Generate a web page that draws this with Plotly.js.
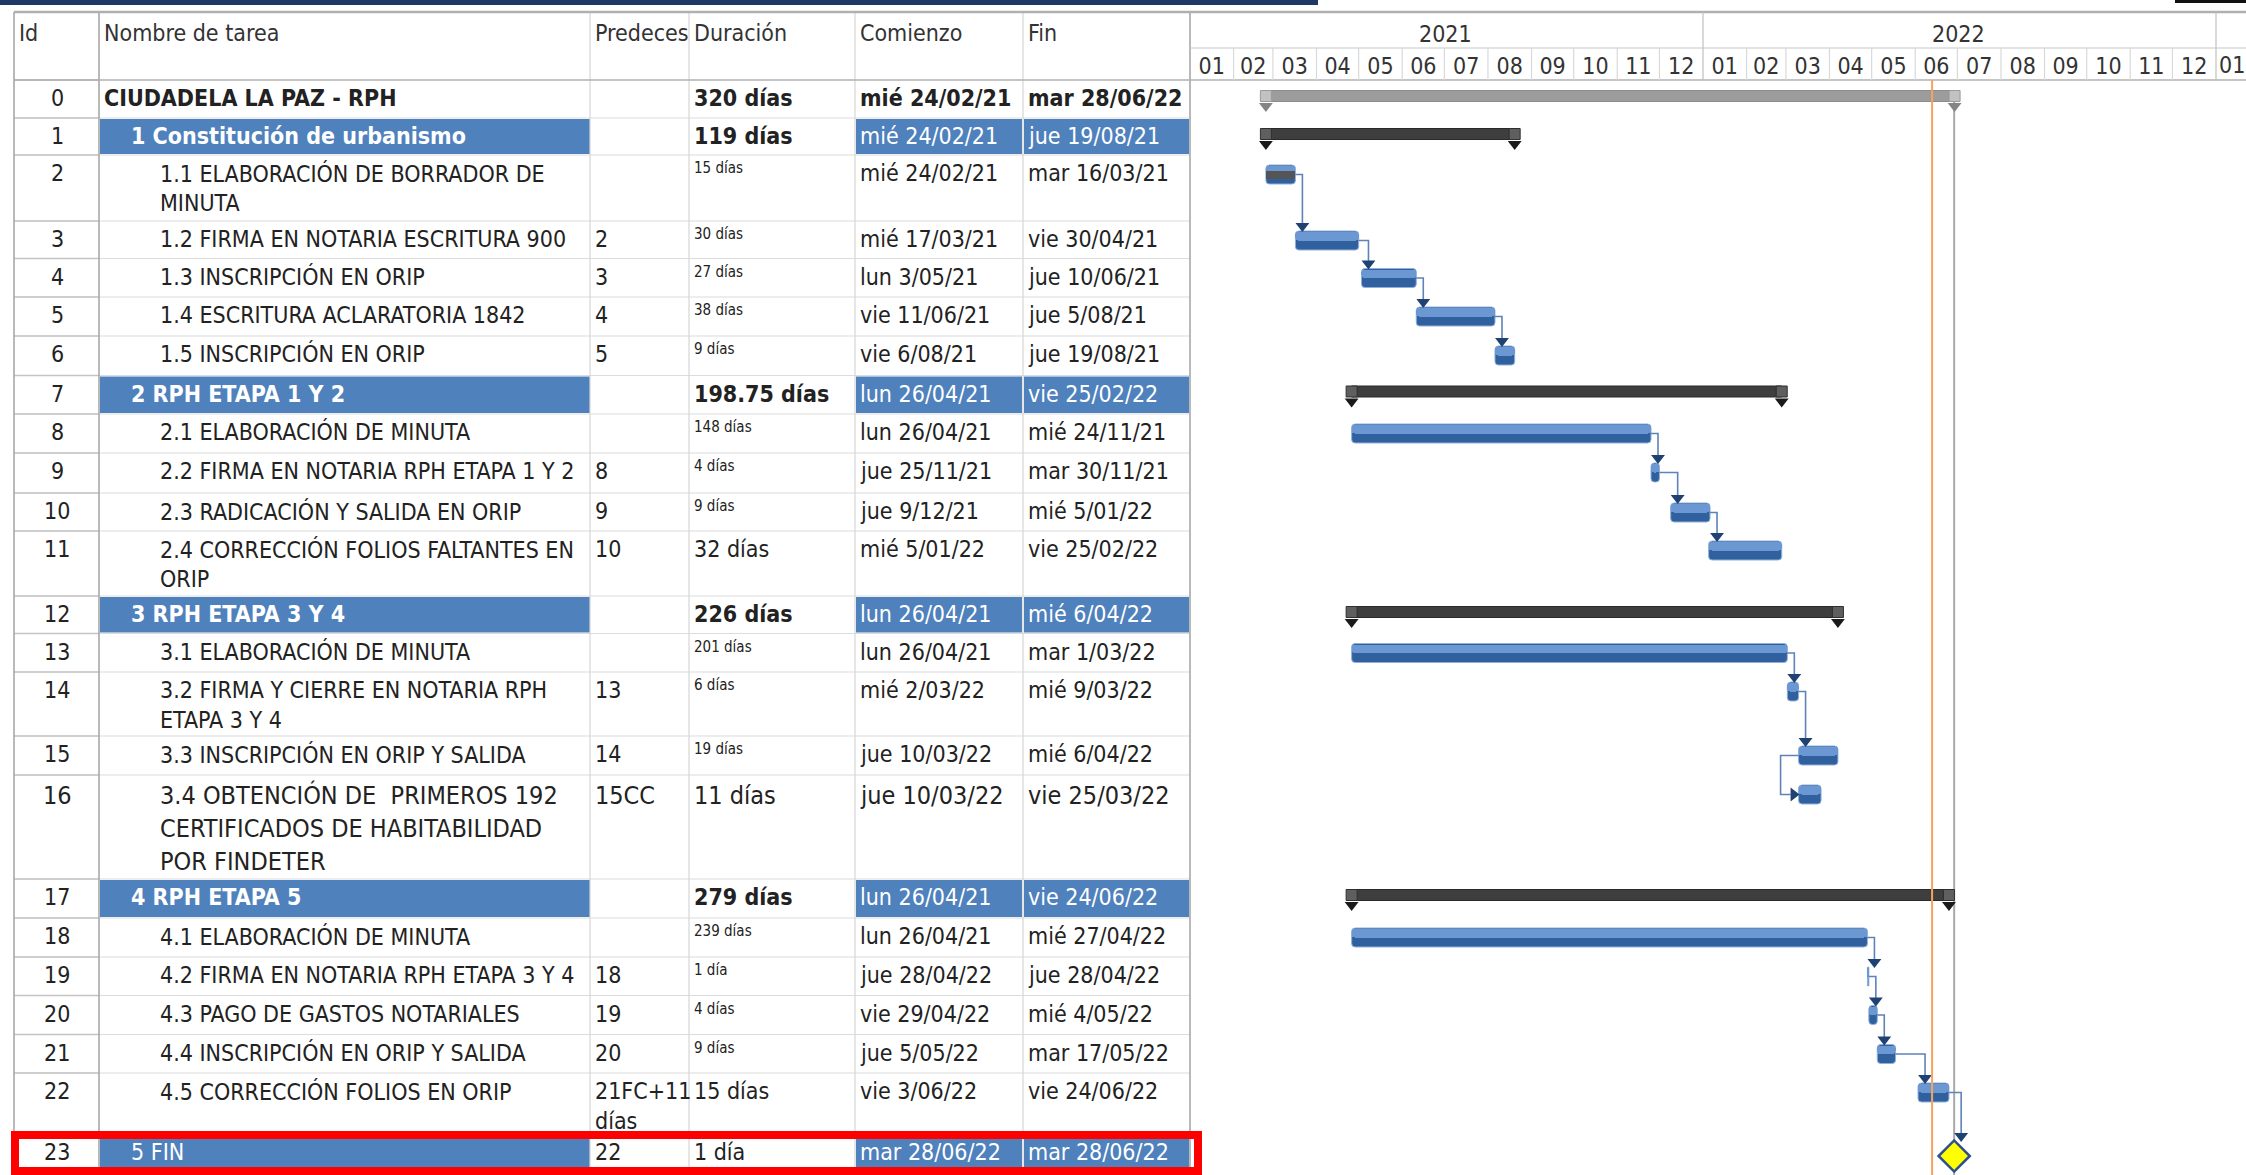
<!DOCTYPE html>
<html>
<head>
<meta charset="utf-8">
<script src="https://cdn.plot.ly/plotly-3.0.1.min.js"></script>
<style>
html,body{margin:0;padding:0;background:#ffffff;overflow:hidden;}
#chart{width:2246px;height:1175px;}
</style>
</head>
<body>
<div id="chart"></div>
<script>
// ================= DATA =================
const taskIds = [0,1,2,3,4,5,6,7,8,9,10,11,12,13,14,15,16,17,18,19,20,21,22,23];
const taskNames = [
  "CIUDADELA LA PAZ - RPH",
  "1 Constitución de urbanismo",
  "1.1 ELABORACIÓN DE BORRADOR DE\nMINUTA",
  "1.2 FIRMA EN NOTARIA ESCRITURA 900",
  "1.3 INSCRIPCIÓN EN ORIP",
  "1.4 ESCRITURA ACLARATORIA 1842",
  "1.5 INSCRIPCIÓN EN ORIP",
  "2 RPH ETAPA 1 Y 2",
  "2.1 ELABORACIÓN DE MINUTA",
  "2.2 FIRMA EN NOTARIA RPH ETAPA 1 Y 2",
  "2.3 RADICACIÓN Y SALIDA EN ORIP",
  "2.4 CORRECCIÓN FOLIOS FALTANTES EN\nORIP",
  "3 RPH ETAPA 3 Y 4",
  "3.1 ELABORACIÓN DE MINUTA",
  "3.2 FIRMA Y CIERRE EN NOTARIA RPH\nETAPA 3 Y 4",
  "3.3 INSCRIPCIÓN EN ORIP Y SALIDA",
  "3.4 OBTENCIÓN DE\u00a0 PRIMEROS 192\nCERTIFICADOS DE HABITABILIDAD\nPOR FINDETER",
  "4 RPH ETAPA 5",
  "4.1 ELABORACIÓN DE MINUTA",
  "4.2 FIRMA EN NOTARIA RPH ETAPA 3 Y 4",
  "4.3 PAGO DE GASTOS NOTARIALES",
  "4.4 INSCRIPCIÓN EN ORIP Y SALIDA",
  "4.5 CORRECCIÓN FOLIOS EN ORIP",
  "5 FIN"
];
const predecessors = ["","","","2","3","4","5","","","8","9","10","","","13","14","15CC","","","18","19","20","21FC+11\ndías","22"];
const durations = ["320 días","119 días","15 días","30 días","27 días","38 días","9 días","198.75 días","148 días","4 días","9 días","32 días","226 días","201 días","6 días","19 días","11 días","279 días","239 días","1 día","4 días","9 días","15 días","1 día"];
const startDates = ["2021-02-24","2021-02-24","2021-02-24","2021-03-17","2021-05-03","2021-06-11","2021-08-06","2021-04-26","2021-04-26","2021-11-25","2021-12-09","2022-01-05","2021-04-26","2021-04-26","2022-03-02","2022-03-10","2022-03-10","2021-04-26","2021-04-26","2022-04-28","2022-04-29","2022-05-05","2022-06-03","2022-06-28"];
const finishDates = ["2022-06-28","2021-08-19","2021-03-16","2021-04-30","2021-06-10","2021-08-05","2021-08-19","2022-02-25","2021-11-24","2021-11-30","2022-01-05","2022-02-25","2022-04-06","2022-03-01","2022-03-09","2022-04-06","2022-03-25","2022-06-24","2022-04-27","2022-04-28","2022-05-04","2022-05-17","2022-06-24","2022-06-28"];
const taskKinds = ["project","summary","task","task","task","task","task","summary","task","task","task","task","summary","task","task","task","task","summary","task","task","task","task","task","milestone"];
const percentComplete = [0,0,100,0,0,0,0,0,0,0,0,0,0,0,0,0,0,0,0,0,0,0,0,0];
const currentDate = "2022-06-13";
const headerLabels = ["Id","Nombre de tarea","Predeces","Duración","Comienzo","Fin"];
const weekdayAbbr = ["dom","lun","mar","mié","jue","vie","sáb"];

// ================= LAYOUT / STYLE =================
const W = 2246, H = 1175;
const GX0 = 1190;                      // left edge of the gantt area
const TOP = 12, TIER = 48, HB = 80;   // header lines
const COLS = [14, 99, 590, 689, 855, 1023, 1190];
const ROW_TOPS = [80,118,155,221,258.5,297,336,375.5,414,453,493,531,596,633.5,672,736,775,879,918,957,995.5,1034.5,1073,1134,1175];
const PX_PER_DAY = 513/365;
const AXIS_START = "2021-01-01";
const SMALL_DUR_ROWS = [2,3,4,5,6,8,9,10,13,14,15,18,19,20,21];
const BIG_ROWS = [16];
const FONT = '"Liberation Sans Narrow", "Arial Narrow", "DejaVu Sans Condensed", "Liberation Sans", sans-serif';
const FS = 23, FS_SMALL = 15, FS_BIG = 25;
const TXT = '#222222';
const BLUE = '#4f81bd';

const DAY = 86400000;
const t0 = Date.parse(AXIS_START + 'T00:00:00Z');
const tEnd = t0 + (W - GX0) / PX_PER_DAY * DAY;
const msPerPx = DAY / PX_PER_DAY;
const ds = ms => new Date(ms).toISOString().slice(0,19).replace('T',' ');
const dms = s => Date.parse(s + 'T00:00:00Z');

function fmtDate(s){
  const d = new Date(s + 'T00:00:00Z');
  const dd = d.getUTCDate();
  const mm = String(d.getUTCMonth()+1).padStart(2,'0');
  const yy = String(d.getUTCFullYear()).slice(2);
  return weekdayAbbr[d.getUTCDay()] + ' ' + dd + '/' + mm + '/' + yy;
}

const X = px => px / W;
const Y = py => 1 - py / H;
const shapes = [], annotations = [];
function pline(x0,y0,x1,y1,color,width){
  shapes.push({type:'line',xref:'paper',yref:'paper',x0:X(x0),x1:X(x1),y0:Y(y0),y1:Y(y1),line:{color:color,width:width},layer:'below'});
}
function prect(x0,y0,x1,y1,fill){
  shapes.push({type:'rect',xref:'paper',yref:'paper',x0:X(x0),x1:X(x1),y0:Y(y0),y1:Y(y1),fillcolor:fill,line:{width:0},layer:'below'});
}
function ptext(str,x,y,o){
  o = o || {};
  annotations.push({xref:'paper',yref:'paper',x:X(x),y:Y(y),text:o.bold?'<b>'+str+'</b>':str,showarrow:false,
    xanchor:o.anchor||'left',yanchor:'middle',borderpad:0,
    font:{family:FONT,size:o.size||FS,color:o.color||TXT}});
}

// ---- top decoration bars ----
prect(0,0,1318,5,'#1f3864');
prect(2175,0,W,3,'#111111');

// ---- blue cells ----
taskIds.forEach((id,i)=>{
  const k = taskKinds[i];
  if(k==='summary' || k==='milestone'){
    const y0 = ROW_TOPS[i]+1, y1 = ROW_TOPS[i+1]-1;
    prect(COLS[1]+1, y0, COLS[2], y1, BLUE);
    prect(COLS[4]+1, y0, COLS[5]-1, y1, BLUE);
    prect(COLS[5]+1, y0, COLS[6]-1, y1, BLUE);
  }
});

// ---- table grid ----
ROW_TOPS.forEach((y,i)=>{ if(i>0 && i<ROW_TOPS.length-1) pline(COLS[0], y, COLS[6], y, '#dcdcdc', 1.2); });
pline(COLS[0], ROW_TOPS[0], COLS[1], ROW_TOPS[0], '#b5b5b5', 1.5);
ROW_TOPS.forEach((y,i)=>{ if(i>0 && i<ROW_TOPS.length-1) pline(COLS[0], y, COLS[1], y, '#c4c4c4', 1.5); });
COLS.forEach((x,i)=>{
  const c = (i<=1 || i===6) ? '#a8a8a8' : '#d6d6d6';
  pline(x, TOP, x, H, c, (i<=1||i===6)?1.6:1.2);
});
pline(COLS[0], TOP, W, TOP, '#b0b0b0', 2.5);
pline(COLS[0], HB, W, HB, '#b0b0b0', 1.6);
pline(GX0, TIER, W, TIER, '#c8c8c8', 1.2);

// ---- header texts ----
const headerX = [18, 103, 594, 693, 859, 1027];
headerLabels.forEach((h,j)=> ptext(h, headerX[j], 33, {size:FS, color:'#333333'}));

// ---- row texts ----
taskIds.forEach((id,i)=>{
  const top = ROW_TOPS[i];
  const k = taskKinds[i];
  const big = BIG_ROWS.includes(i);
  const fs = big ? FS_BIG : FS;
  const lineGap = big ? 33 : 30;
  const y = top + (big ? 20 : 18);
  const blue = (k==='summary' || k==='milestone');
  const bold = (k==='project');
  ptext(String(id), 57, y, {anchor:'center', size:fs});
  const indent = k==='project' ? 103 : (blue ? 130 : 159);
  taskNames[i].split('\n').forEach((ln,m)=>{
    ptext(ln, indent, y + m*lineGap, {size:fs, bold: bold || k==='summary', color: blue ? '#ffffff' : TXT});
  });
  predecessors[i].split('\n').forEach((ln,m)=>{
    if(ln) ptext(ln, 594, y + m*lineGap, {size:fs});
  });
  if(SMALL_DUR_ROWS.includes(i)) ptext(durations[i], 693, top + 13, {size:FS_SMALL});
  else ptext(durations[i], 693, y, {size:fs, bold: bold || k==='summary'});
  ptext(fmtDate(startDates[i]), 859, y, {size:fs, bold:bold, color: blue ? '#ffffff' : TXT});
  ptext(fmtDate(finishDates[i]), 1027, y, {size:fs, bold:bold, color: blue ? '#ffffff' : TXT});
});

// ---- red highlight box around the last row ----
(function(){
  const i = taskIds.length-1;
  shapes.push({type:'rect',xref:'paper',yref:'paper',x0:X(15),x1:X(1198),y0:Y(ROW_TOPS[i]+1),y1:Y(H-4),
    line:{color:'#ff0000',width:8},fillcolor:'rgba(0,0,0,0)',layer:'above'});
})();

// ---- timescale header (months via axis ticks; separators, years, partial month here) ----
for(let y=2021; y<=2023; y++){
  for(let m=0; m<12; m++){
    const t = Date.UTC(y,m,1);
    if(t>t0 && t<tEnd){
      shapes.push({type:'line',xref:'x',yref:'paper',x0:ds(t),x1:ds(t),y0:Y(HB),y1:Y(m===0?TOP:TIER),
        line:{color: m===0 ? '#c0c0c0' : '#d9d9d9', width:1.2},layer:'below'});
    }
    // partial trailing month whose label the axis drops: keep it inside the figure edge
    const tNext = Date.UTC(y,m+1,1);
    if(t < tEnd && tNext > tEnd){
      annotations.push({xref:'paper',yref:'paper',x:1,y:Y(65),text:String(m+1).padStart(2,'0'),showarrow:false,
        xanchor:'right',yanchor:'middle',borderpad:0,font:{family:FONT,size:FS,color:'#333333'}});
    }
  }
  const mid = Date.UTC(y,6,2);
  if(mid < tEnd){
    annotations.push({xref:'x',yref:'paper',x:ds(mid),y:Y(34),text:String(y),showarrow:false,
      xanchor:'center',yanchor:'middle',font:{family:FONT,size:FS,color:'#333333'}});
  }
}

// ================= GANTT MARKS =================
const startMs = startDates.map(dms);
const endMs = finishDates.map(s => dms(s) + DAY);
const center = i => ROW_TOPS[i] + 19.5;
const sumCenter = i => ROW_TOPS[i] + 16;
const msCenter = i => ROW_TOPS[i] + 22;
const msX = i => dms(startDates[i]) + 17*3600000;

const taskIdx = taskIds.map((_,i)=>i).filter(i=>taskKinds[i]==='task');
const sumIdx = taskIds.map((_,i)=>i).filter(i=>taskKinds[i]==='summary');
const projIdx = taskIds.map((_,i)=>i).filter(i=>taskKinds[i]==='project');
const mileIdx = taskIds.map((_,i)=>i).filter(i=>taskKinds[i]==='milestone');

const traces = [];
function barTrace(idx, yFn, width, offset, color, lineColor, radius, durFn){
  traces.push({type:'bar',orientation:'h',xaxis:'x',yaxis:'y',
    y: idx.map(yFn), x: idx.map(durFn || (i => endMs[i]-startMs[i])), base: idx.map(i=>ds(startMs[i])),
    width: width, offset: offset,
    marker:{color:color, line:{color:lineColor, width: lineColor?1:0}, cornerradius: radius},
    hoverinfo:'skip', showlegend:false});
}
// task bars: darker base, lighter upper half
barTrace(taskIdx, center, 19, -9.5, '#31609f', '#8fb0dc', 4);
barTrace(taskIdx, center, 8.5, -8.5, '#6b98d3', null, 3);
// progress bars
const progIdx = taskIdx.filter(i => percentComplete[i] > 0);
barTrace(progIdx, center, 8, -4, '#555555', null, 0, i => (endMs[i]-startMs[i]) * percentComplete[i]/100);
// summary + project bodies
barTrace(sumIdx, sumCenter, 11, -5.5, '#3e3e3e', '#2a2a2a', 0);
barTrace(projIdx, sumCenter, 11, -5.5, '#9c9c9c', '#8c8c8c', 0);

function endMarks(idx, capColor, capLine, triColor){
  const xs = [], ys = [], tx = [], ty = [];
  idx.forEach(i=>{
    [startMs[i], endMs[i]].forEach(t=>{
      xs.push(ds(t)); ys.push(sumCenter(i));
      tx.push(ds(t)); ty.push(ROW_TOPS[i]+26);
    });
  });
  traces.push({type:'scatter',mode:'markers',x:tx,y:ty,xaxis:'x',yaxis:'y',
    marker:{symbol:'triangle-down',size:12,color:triColor,line:{width:0}},hoverinfo:'skip',showlegend:false});
  traces.push({type:'scatter',mode:'markers',x:xs,y:ys,xaxis:'x',yaxis:'y',
    marker:{symbol:'square',size:11,color:capColor,line:{color:capLine,width:1}},hoverinfo:'skip',showlegend:false});
}
endMarks(sumIdx, '#5f5f5f', '#2f2f2f', '#1a1a1a');
endMarks(projIdx, '#c2c2c2', '#9a9a9a', '#858585');

// ---- dependency links ----
const lx = [], ly = [], adx = [], ady = [], arx = [], ary = [];
predecessors.forEach((p,s)=>{
  const m = p.replace('\n',' ').match(/^(\d+)(CC|FC)?/);
  if(!m) return;
  const pi = taskIds.indexOf(+m[1]);
  const type = m[2] || 'FC';
  const isMile = taskKinds[s]==='milestone';
  const sx = isMile ? msX(s) : startMs[s];
  if(type==='CC'){
    const xl = Math.min(startMs[pi], sx) - 18*msPerPx;
    lx.push(ds(startMs[pi]), ds(xl), ds(xl), ds(sx - 8*msPerPx), null);
    ly.push(center(pi), center(pi), center(s), center(s), null);
    arx.push(ds(sx - 5*msPerPx)); ary.push(center(s));
  } else {
    const xe = endMs[pi];
    const xv = Math.max(xe, sx) + 7*msPerPx;
    const yTop = isMile ? msCenter(s) - 15 : center(s) - 9.5;
    lx.push(ds(xe), ds(xv), ds(xv), null);
    ly.push(center(pi), center(pi), yTop - 6, null);
    adx.push(ds(xv)); ady.push(yTop - 5);
  }
});
traces.push({type:'scatter',mode:'lines',x:lx,y:ly,xaxis:'x',yaxis:'y',connectgaps:false,
  line:{color:'#5f83b8',width:1.6},hoverinfo:'skip',showlegend:false});
traces.push({type:'scatter',mode:'markers',x:adx,y:ady,xaxis:'x',yaxis:'y',
  marker:{symbol:'triangle-down',size:12,color:'#1f4273'},hoverinfo:'skip',showlegend:false});
traces.push({type:'scatter',mode:'markers',x:arx,y:ary,xaxis:'x',yaxis:'y',
  marker:{symbol:'triangle-right',size:12,color:'#1f4273'},hoverinfo:'skip',showlegend:false});

// ---- milestone ----
traces.push({type:'scatter',mode:'markers',x:mileIdx.map(i=>ds(msX(i))),y:mileIdx.map(msCenter),xaxis:'x',yaxis:'y',
  marker:{symbol:'diamond',size:24,color:'#ffff00',line:{color:'#2f4f8f',width:2.5}},hoverinfo:'skip',showlegend:false});

// ---- current date line & project finish line ----
shapes.push({type:'line',xref:'x',yref:'y',x0:ds(dms(currentDate)),x1:ds(dms(currentDate)),y0:HB,y1:H,
  line:{color:'#f7a35c',width:2},layer:'above'});
const pf = dms(finishDates[projIdx[0]]) + 17*3600000;
shapes.push({type:'line',xref:'x',yref:'y',x0:ds(pf),x1:ds(pf),y0:ROW_TOPS[0]+20,y1:H,
  line:{color:'#a9a9a9',width:2},layer:'below'});

const layout = {
  width: W, height: H,
  margin:{l:0,r:0,t:0,b:0,pad:0},
  paper_bgcolor:'#ffffff', plot_bgcolor:'rgba(0,0,0,0)',
  barmode:'overlay', bargap:0,
  showlegend:false, hovermode:false,
  xaxis:{type:'date', domain:[GX0/W, 1], range:[ds(t0), ds(tEnd)], side:'top', anchor:'y',
    showgrid:false, zeroline:false, showline:false, ticks:'',
    dtick:'M1', tick0:AXIS_START, tickformat:'%m', ticklabelmode:'period',
    tickfont:{family:FONT,size:FS,color:'#333333'}, fixedrange:true},
  yaxis:{domain:[0, 1 - HB/H], range:[H, HB], visible:false, fixedrange:true, showgrid:false, zeroline:false},
  shapes: shapes,
  annotations: annotations
};

Plotly.newPlot('chart', traces, layout, {staticPlot:true, displayModeBar:false});
</script>
</body>
</html>
